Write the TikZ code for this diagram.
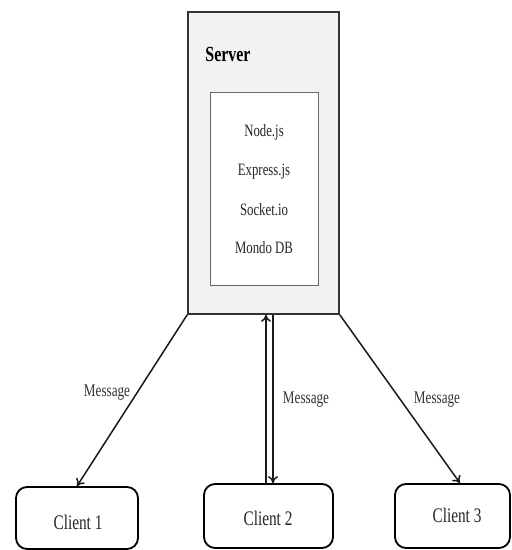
\documentclass[tikz,border=0pt]{standalone}
\usepackage{fontspec}
\setmainfont{Liberation Serif}[FakeStretch=0.74]
\usetikzlibrary{arrows.meta,calc}
\begin{document}
\begin{tikzpicture}[x=1pt,y=-1pt,
  serverbox/.style={draw=black!80,line width=1.6pt,fill=black!5,minimum width=151pt,minimum height=302pt,inner sep=0pt},
  stackbox/.style={draw=black!60,line width=0.9pt,fill=white,minimum width=108pt,minimum height=193pt,inner sep=0pt},
  stacktxt/.style={font=\fontsize{17.3}{19}\selectfont,text=black!85,inner sep=0pt},
  clientbox/.style={draw=black,line width=1.8pt,rounded corners=11pt,fill=white,inner sep=0pt},
  clienttxt/.style={font=\fontsize{20.7}{22}\selectfont,text=black!85,inner sep=0pt},
  msg/.style={font=\fontsize{17.8}{19}\selectfont,text=black!80,inner sep=0pt},
  conn/.style={draw=black!90,line width=1.5pt,-{To[length=7pt,width=10pt]}}]
\useasboundingbox (0,0) rectangle (512,550);
\node[serverbox] (server) at (263.5,163) {};
\node[stackbox] (stack) at (264,188.5) {};
\node[font=\bfseries\fontsize{21.5}{23}\selectfont,inner sep=0pt] (title) at (228,54) {Server};
\node[stacktxt] (t1) at (264,132) {Node.js};
\node[stacktxt] (t2) at (264,172) {Express.js};
\node[stacktxt] (t3) at (264,210) {Socket.io};
\node[stacktxt] (t4) at (264,248) {Mondo DB};
\node[clientbox,minimum width=122pt,minimum height=62pt] (c1) at (77,518) {};
\node[clientbox,minimum width=129pt,minimum height=64pt] (c2) at (268.5,516) {};
\node[clientbox,minimum width=115pt,minimum height=64pt] (c3) at (452.5,516) {};
\node[clienttxt] (l1) at (78,522) {Client 1};
\node[clienttxt] (l2) at (268,518) {Client 2};
\node[clienttxt] (l3) at (457,515) {Client 3};
\coordinate (c3top) at ($(c3.north)+(7.5,0)$);
\draw[conn] (server.south west) -- (c1.north);
\draw[conn] (server.south east) -- (c3top);
\draw[conn] ([xshift=-2.5pt]c2.north) -- ([xshift=-2.5pt]c2.north |- server.south);
\draw[conn] ([xshift=4.5pt]c2.north |- server.south) -- ([xshift=4.5pt]c2.north);
\node[msg] (m1) at (107,393) {Message};
\node[msg] (m2) at (306,400) {Message};
\node[msg] (m3) at (437,400) {Message};
\end{tikzpicture}
\end{document}
